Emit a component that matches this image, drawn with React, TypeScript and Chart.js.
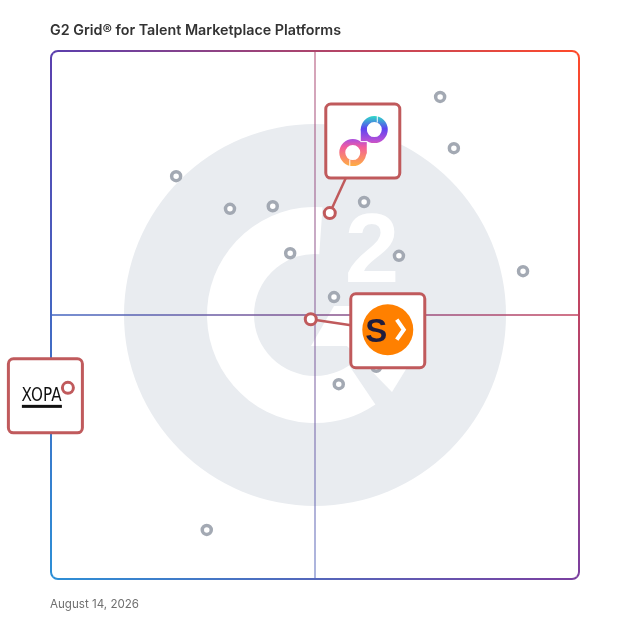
import { useEffect, useRef } from 'react';
import { Chart, registerables } from 'chart.js';

Chart.register(...registerables);

const TITLE = 'G2 Grid® for Talent Marketplace Platforms';
const DATE_LABEL = 'August 14, 2026';

// Other vendors (gray markers): market presence (x) and satisfaction (y), 0-100
const vendorX = [73.7, 76.3, 23.7, 33.9, 42.0, 59.3, 45.3, 65.9, 89.4, 53.6, 61.6, 54.5, 29.5];
const vendorY = [91.3, 81.6, 76.3, 70.1, 70.6, 71.4, 61.7, 61.2, 58.3, 53.4, 40.2, 36.9, 9.3];

// Featured vendors (red markers with logo boxes)
const featuredLogos = ['loop', 'arrow', 'xopa'];
const featuredX = [52.8, 49.2, 3.2];
const featuredY = [69.3, 49.2, 36.2];
// logo box centre offsets from the marker, in pixels
const logoOffsetX = [33, 77, -22.5];
const logoOffsetY = [-72, 11.5, 8];

const AXIS_MIN = 0;
const AXIS_MAX = 100;
const MIDPOINT = 50;

const TL = '#5b3fae';
const TR = '#ff4a2a';
const BL = '#2d8fd6';
const BR = '#7b3fa0';
const BOX_RED = '#c05a5c';

function rr(ctx: CanvasRenderingContext2D, x: number, y: number, w: number, h: number, r: number) {
  ctx.beginPath();
  ctx.moveTo(x + r, y);
  ctx.arcTo(x + w, y, x + w, y + h, r);
  ctx.arcTo(x + w, y + h, x, y + h, r);
  ctx.arcTo(x, y + h, x, y, r);
  ctx.arcTo(x, y, x + w, y, r);
  ctx.closePath();
}

function drawLoopLogo(ctx: CanvasRenderingContext2D, cx: number, cy: number) {
  const g = ctx.createLinearGradient(0, cy - 25, 0, cy + 25);
  g.addColorStop(0, '#2fd9c8');
  g.addColorStop(0.25, '#5b45f0');
  g.addColorStop(0.48, '#b44fd8');
  g.addColorStop(0.62, '#f25d9c');
  g.addColorStop(1, '#ffae42');
  ctx.save();
  ctx.strokeStyle = g;
  ctx.lineWidth = 6;
  ctx.lineCap = 'round';
  const ux = cx + 11.5;
  const uy = cy - 11.5;
  const lx = cx - 10;
  const ly = cy + 11.5;
  const r = 10.5;
  // upper loop
  ctx.beginPath();
  ctx.arc(ux, uy, r, 0, Math.PI * 2);
  ctx.stroke();
  // lower loop
  ctx.beginPath();
  ctx.arc(lx, ly, r, 0, Math.PI * 2);
  ctx.stroke();
  // stem joining them
  ctx.beginPath();
  ctx.moveTo(ux - r, uy);
  ctx.lineTo(ux - r, ly);
  ctx.stroke();
  // white dash accents
  ctx.strokeStyle = '#ffffff';
  ctx.lineWidth = 1;
  ctx.beginPath();
  ctx.moveTo(ux - r - 3, cy + 0.5);
  ctx.lineTo(ux - r + 3, cy + 0.5);
  ctx.moveTo(ux + 3, uy - r - 3);
  ctx.lineTo(ux + 3, uy - r + 3);
  ctx.moveTo(lx - 3, ly + r - 3);
  ctx.lineTo(lx - 3, ly + r + 3);
  ctx.stroke();
  ctx.restore();
}

function drawArrowLogo(ctx: CanvasRenderingContext2D, cx: number, cy: number) {
  ctx.save();
  ctx.fillStyle = '#ff8000';
  ctx.beginPath();
  ctx.arc(cx, cy - 1, 25.5, 0, Math.PI * 2);
  ctx.fill();
  ctx.fillStyle = '#1f1d3d';
  ctx.font = 'bold 33px "Liberation Sans", Arial, sans-serif';
  ctx.textAlign = 'center';
  ctx.textBaseline = 'alphabetic';
  ctx.fillText('S', cx - 11.5, cy + 11);
  ctx.strokeStyle = '#ffffff';
  ctx.lineWidth = 4;
  ctx.lineJoin = 'miter';
  ctx.beginPath();
  ctx.moveTo(cx + 9, cy - 11);
  ctx.lineTo(cx + 16, cy - 1);
  ctx.lineTo(cx + 9, cy + 9);
  ctx.stroke();
  ctx.restore();
}

function drawXopaLogo(ctx: CanvasRenderingContext2D, cx: number, cy: number) {
  ctx.save();
  ctx.fillStyle = '#111111';
  ctx.font = '20px "DejaVu Sans", sans-serif';
  ctx.textBaseline = 'alphabetic';
  ctx.textAlign = 'left';
  const w = ctx.measureText('XOPA').width;
  ctx.translate(cx - 23.8, cy + 5);
  ctx.scale(40 / w, 1);
  ctx.fillText('XOPA', 0, 0);
  ctx.restore();
  ctx.fillStyle = '#111111';
  ctx.fillRect(cx - 23.5, cy + 9, 40, 3);
}

const backgroundPlugin = {
  id: 'g2Background',
  beforeDatasetsDraw(chart: any) {
    const ctx: CanvasRenderingContext2D = chart.ctx;
    const { left, top, right, bottom } = chart.chartArea;
    const w = right - left;
    const h = bottom - top;
    const k = w / 528;
    const cx = (left + right) / 2;
    const cy = (top + bottom) / 2;
    ctx.save();
    // watermark
    ctx.fillStyle = '#e9ecf0';
    ctx.beginPath();
    ctx.arc(cx, cy, 191 * k, 0, Math.PI * 2);
    ctx.fill();
    ctx.fillStyle = '#ffffff';
    const a0 = (-86 * Math.PI) / 180;
    const a1 = (56 * Math.PI) / 180;
    ctx.beginPath();
    ctx.arc(cx, cy, 108 * k, a0, a1, true);
    ctx.arc(cx, cy, 61 * k, a1, a0, false);
    ctx.closePath();
    ctx.fill();
    ctx.beginPath();
    ctx.moveTo(cx - 4 * k, cy + 31 * k);
    ctx.lineTo(cx + 19 * k, cy - 9 * k);
    ctx.lineTo(cx + 45 * k, cy - 9 * k);
    ctx.lineTo(cx + 45 * k, cy + 31 * k);
    ctx.closePath();
    ctx.fill();
    ctx.beginPath();
    ctx.moveTo(cx + 32 * k, cy + 31 * k);
    ctx.lineTo(cx + 77 * k, cy + 77 * k);
    ctx.lineTo(cx + 93 * k, cy + 51 * k);
    ctx.lineTo(cx + 80 * k, cy + 31 * k);
    ctx.closePath();
    ctx.fill();
    ctx.font = `bold ${Math.round(98 * k)}px "Liberation Sans", Arial, sans-serif`;
    ctx.textAlign = 'center';
    ctx.textBaseline = 'alphabetic';
    ctx.fillText('2', cx + 57 * k, cy - 33 * k);

    // gradient border, one side at a time
    const sides: any[] = [
      { clip: [[cx, cy], [left - 20, top - 20], [right + 20, top - 20]], g: [left, 0, right, 0, TL, TR] },
      { clip: [[cx, cy], [right + 20, top - 20], [right + 20, bottom + 20]], g: [0, top, 0, bottom, TR, BR] },
      { clip: [[cx, cy], [right + 20, bottom + 20], [left - 20, bottom + 20]], g: [left, 0, right, 0, BL, BR] },
      { clip: [[cx, cy], [left - 20, bottom + 20], [left - 20, top - 20]], g: [0, top, 0, bottom, TL, BL] },
    ];
    for (const s of sides) {
      ctx.save();
      ctx.beginPath();
      ctx.moveTo(s.clip[0][0], s.clip[0][1]);
      ctx.lineTo(s.clip[1][0], s.clip[1][1]);
      ctx.lineTo(s.clip[2][0], s.clip[2][1]);
      ctx.closePath();
      ctx.clip();
      const g = ctx.createLinearGradient(s.g[0], s.g[1], s.g[2], s.g[3]);
      g.addColorStop(0, s.g[4]);
      g.addColorStop(1, s.g[5]);
      ctx.strokeStyle = g;
      ctx.lineWidth = 2;
      rr(ctx, left, top, w, h, 7);
      ctx.stroke();
      ctx.restore();
    }

    // quadrant lines
    const xm = chart.scales.x.getPixelForValue(MIDPOINT);
    const ym = chart.scales.y.getPixelForValue(MIDPOINT);
    const hg = ctx.createLinearGradient(left, 0, right, 0);
    hg.addColorStop(0, '#4467c2');
    hg.addColorStop(1, '#c24460');
    ctx.strokeStyle = hg;
    ctx.lineWidth = 1.5;
    ctx.beginPath();
    ctx.moveTo(left, ym);
    ctx.lineTo(right, ym);
    ctx.stroke();
    const vg = ctx.createLinearGradient(0, top, 0, bottom);
    vg.addColorStop(0, '#ad446c');
    vg.addColorStop(1, '#5467bb');
    ctx.globalAlpha = 0.65;
    ctx.strokeStyle = vg;
    ctx.beginPath();
    ctx.moveTo(xm, top);
    ctx.lineTo(xm, bottom);
    ctx.stroke();
    ctx.restore();
  },
  afterDatasetDraw(chart: any, args: any) {
    if (args.index !== 0) return;
    const ctx: CanvasRenderingContext2D = chart.ctx;
    const meta = chart.getDatasetMeta(1);
    ctx.save();
    const size = 74;
    meta.data.forEach((pt: any, i: number) => {
      const bx = pt.x + logoOffsetX[i];
      const by = pt.y + logoOffsetY[i];
      ctx.strokeStyle = BOX_RED;
      ctx.lineWidth = 2.5;
      ctx.beginPath();
      ctx.moveTo(pt.x, pt.y);
      ctx.lineTo(bx, by);
      ctx.stroke();
    });
    meta.data.forEach((pt: any, i: number) => {
      const bx = pt.x + logoOffsetX[i];
      const by = pt.y + logoOffsetY[i];
      rr(ctx, bx - size / 2, by - size / 2, size, size, 5);
      ctx.fillStyle = '#ffffff';
      ctx.fill();
      ctx.strokeStyle = BOX_RED;
      ctx.lineWidth = 3;
      ctx.stroke();
      const logo = featuredLogos[i];
      if (logo === 'loop') drawLoopLogo(ctx, bx, by);
      else if (logo === 'arrow') drawArrowLogo(ctx, bx, by);
      else drawXopaLogo(ctx, bx, by);
    });
    ctx.restore();
  },
  afterDraw(chart: any) {
    const ctx: CanvasRenderingContext2D = chart.ctx;
    ctx.save();
    ctx.textAlign = 'left';
    ctx.textBaseline = 'alphabetic';
    ctx.fillStyle = '#333333';
    ctx.font = '600 14.3px Inter, "Open Sans", sans-serif';
    ctx.fillText(TITLE, 50, 35);
    ctx.fillStyle = '#707070';
    ctx.font = '11.6px Inter, "Open Sans", sans-serif';
    ctx.fillText(DATE_LABEL, 50, 608);
    ctx.restore();
  },
};

export default function App() {
  const ref = useRef<HTMLCanvasElement | null>(null);
  useEffect(() => {
    if (!ref.current) return;
    const chart = new Chart(ref.current, {
      type: 'scatter',
      data: {
        datasets: [
          {
            label: 'Vendors',
            data: vendorX.map((x, i) => ({ x, y: vendorY[i] })),
            pointRadius: 4.5,
            pointBorderWidth: 3.5,
            pointBackgroundColor: '#ffffff',
            pointBorderColor: '#a3a9b3',
            order: 2,
          },
          {
            label: 'Featured',
            data: featuredX.map((x, i) => ({ x, y: featuredY[i] })),
            pointRadius: 5.5,
            pointBorderWidth: 3,
            pointBackgroundColor: '#ffffff',
            pointBorderColor: BOX_RED,
            order: 1,
            clip: false as any,
          },
        ],
      },
      options: {
        animation: false,
        responsive: true,
        maintainAspectRatio: false,
        layout: { padding: { left: 51, top: 51, right: 49, bottom: 49 } },
        scales: {
          x: { display: false, min: AXIS_MIN, max: AXIS_MAX },
          y: { display: false, min: AXIS_MIN, max: AXIS_MAX },
        },
        plugins: {
          legend: { display: false },
          tooltip: { enabled: false },
        },
      },
      plugins: [backgroundPlugin],
    });
    return () => chart.destroy();
  }, []);
  return (
    <div style={{ position: 'absolute', left: 0, top: 0, width: 628, height: 628 }}>
      <canvas ref={ref} />
    </div>
  );
}
